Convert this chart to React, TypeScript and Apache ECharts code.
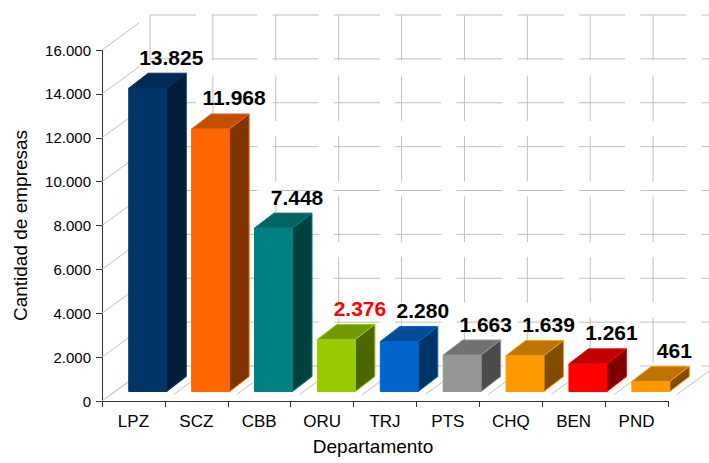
import React, { useEffect, useRef } from "react";
import * as echarts from "echarts";

// ---- data ----
const categories = ["LPZ", "SCZ", "CBB", "ORU", "TRJ", "PTS", "CHQ", "BEN", "PND"];
const empresas = [13825, 11968, 7448, 2376, 2280, 1663, 1639, 1261, 461];
const yTicks = [0, 2000, 4000, 6000, 8000, 10000, 12000, 14000, 16000];
const Y_MIN = 0;
const Y_MAX = 16000;
const Y_STEP = 2000;
const xTitle = "Departamento";
const yTitle = "Cantidad de empresas";
const highlighted = "ORU";

// ---- styles ----
const FRONT = ["#003366", "#FF6600", "#008080", "#99CC00", "#0066CC", "#969696", "#FF9900", "#FF0000", "#FF9900"];
const TOP = ["#002B57", "#C24E00", "#006464", "#739900", "#004C99", "#717171", "#BF7300", "#BF0000", "#BF7300"];
const SIDE = ["#001E3C", "#7F3300", "#004040", "#4C6600", "#003366", "#4B4B4B", "#7F4C00", "#7F0000", "#7F4C00"];
const FONT = "Arial, 'Liberation Sans', sans-serif";
const GRID_COLOR = "#c0c0c0";
const AXIS_COLOR = "#333333";
const DASH = [46, 15.3];

// 3D geometry (px)
const WALL_DX = 48;
const WALL_DY = 35;
const BAR_SHIFT = -4.7;
const BAR_W = 38;
const BAR_LIFT = 9.5;
const DEPTH_DX = 19.5;
const DEPTH_DY = 15;
const LABEL_DX = 4;
const LABEL_GAP = 16;

const fmt = (v: number) => String(v).replace(/\B(?=(\d{3})+(?!\d))/g, ".");

function buildOption(): any {
  return {
    animation: false,
    backgroundColor: "#ffffff",
    grid: { left: 102, top: 50, width: 566, height: 351, containLabel: false },
    xAxis: {
      type: "category",
      data: categories,
      boundaryGap: true,
      name: xTitle,
      nameLocation: "middle",
      nameGap: 36,
      nameTextStyle: { fontFamily: FONT, fontSize: 19, color: "#000", padding: [0, 24, 0, 0] },
      axisLine: { lineStyle: { color: AXIS_COLOR, width: 1 } },
      axisTick: { show: true, length: 6, lineStyle: { color: AXIS_COLOR } },
      axisLabel: { fontFamily: FONT, fontSize: 17, color: "#000", margin: 12 },
      splitLine: { show: false },
    },
    yAxis: {
      type: "value",
      min: Y_MIN,
      max: Y_MAX,
      interval: Y_STEP,
      name: yTitle,
      nameLocation: "middle",
      nameRotate: 90,
      nameGap: 72,
      nameTextStyle: { fontFamily: FONT, fontSize: 19, color: "#000" },
      axisLine: { show: true, lineStyle: { color: AXIS_COLOR, width: 1 } },
      axisTick: { show: true, length: 6, lineStyle: { color: AXIS_COLOR } },
      axisLabel: { fontFamily: FONT, fontSize: 15, color: "#000", margin: 11, formatter: (v: number) => fmt(v) },
      splitLine: { show: false },
    },
    series: [
      {
        type: "custom",
        name: "wallsH",
        z: 1,
        clip: false,
        silent: true,
        data: yTicks.map((v) => [0, v]),
        renderItem: (params: any, api: any) => {
          const cs = params.coordSys;
          const y = api.coord([0, api.value(1)])[1];
          const x0 = cs.x;
          const x1 = cs.x + cs.width;
          return {
            type: "group",
            children: [
              {
                type: "line",
                shape: { x1: x0 + WALL_DX, y1: y - WALL_DY, x2: x1 + WALL_DX, y2: y - WALL_DY },
                style: { stroke: GRID_COLOR, lineWidth: 1, lineDash: DASH },
              },
              {
                type: "line",
                shape: { x1: x0, y1: y, x2: x0 + WALL_DX, y2: y - WALL_DY },
                style: { stroke: GRID_COLOR, lineWidth: 1, lineDash: DASH },
              },
            ],
          };
        },
      },
      {
        type: "custom",
        name: "wallsV",
        z: 1,
        clip: false,
        silent: true,
        data: categories.map((_, i) => [i, 0]),
        renderItem: (params: any, api: any) => {
          const cs = params.coordSys;
          const n = categories.length;
          const band = cs.width / n;
          const idx = params.dataIndex;
          const yTop = api.coord([0, Y_MAX])[1];
          const yBot = api.coord([0, Y_MIN])[1];
          const xs = [cs.x + idx * band];
          if (idx === n - 1) xs.push(cs.x + n * band);
          const children: any[] = [];
          xs.forEach((bx) => {
            children.push({
              type: "line",
              shape: { x1: bx + WALL_DX, y1: yTop - WALL_DY, x2: bx + WALL_DX, y2: yBot - WALL_DY },
              style: { stroke: GRID_COLOR, lineWidth: 1, lineDash: [45.5, 15] },
            });
            children.push({
              type: "line",
              shape: { x1: bx, y1: yBot, x2: bx + WALL_DX, y2: yBot - WALL_DY },
              style: { stroke: GRID_COLOR, lineWidth: 1, lineDash: DASH, lineDashOffset: 50.3 },
            });
          });
          return { type: "group", children };
        },
      },
      {
        type: "custom",
        name: "empresas",
        z: 2,
        clip: false,
        data: empresas.map((v, i) => [i, v]),
        renderItem: (params: any, api: any) => {
          const i = params.dataIndex;
          const [cx, yt] = api.coord([api.value(0), api.value(1)]);
          const yb = api.coord([api.value(0), 0])[1];
          const fl = cx + BAR_SHIFT;
          const fr = fl + BAR_W;
          const ft = yt - BAR_LIFT;
          const fb = yb - BAR_LIFT;
          const edge = FRONT[i];
          return {
            type: "group",
            children: [
              {
                type: "rect",
                shape: { x: fl, y: ft, width: BAR_W, height: fb - ft },
                style: { fill: FRONT[i], stroke: edge, lineWidth: 1 },
              },
              {
                type: "polygon",
                shape: { points: [[fl, ft], [fl + DEPTH_DX, ft - DEPTH_DY], [fr + DEPTH_DX, ft - DEPTH_DY], [fr, ft]] },
                style: { fill: TOP[i], stroke: edge, lineWidth: 1 },
              },
              {
                type: "polygon",
                shape: { points: [[fr, ft], [fr + DEPTH_DX, ft - DEPTH_DY], [fr + DEPTH_DX, fb - DEPTH_DY], [fr, fb]] },
                style: { fill: SIDE[i], stroke: edge, lineWidth: 1 },
              },
              {
                type: "text",
                z2: 10,
                style: {
                  text: fmt(api.value(1)),
                  x: (fl + fr) / 2 + DEPTH_DX + LABEL_DX,
                  y: ft - DEPTH_DY - LABEL_GAP,
                  align: "center",
                  verticalAlign: "middle",
                  fontFamily: FONT,
                  fontSize: 21,
                  fontWeight: "bold",
                  fill: categories[i] === highlighted ? "#FF0000" : "#000000",
                },
              },
            ],
          };
        },
      },
    ],
  };
}

export default function App() {
  const ref = useRef<HTMLDivElement>(null);
  useEffect(() => {
    document.body.style.margin = "0";
    const chart = echarts.init(ref.current as HTMLDivElement, null, { renderer: "svg" });
    chart.setOption(buildOption());
    return () => chart.dispose();
  }, []);
  return <div ref={ref} style={{ width: 709, height: 463, background: "#fff" }} />;
}
